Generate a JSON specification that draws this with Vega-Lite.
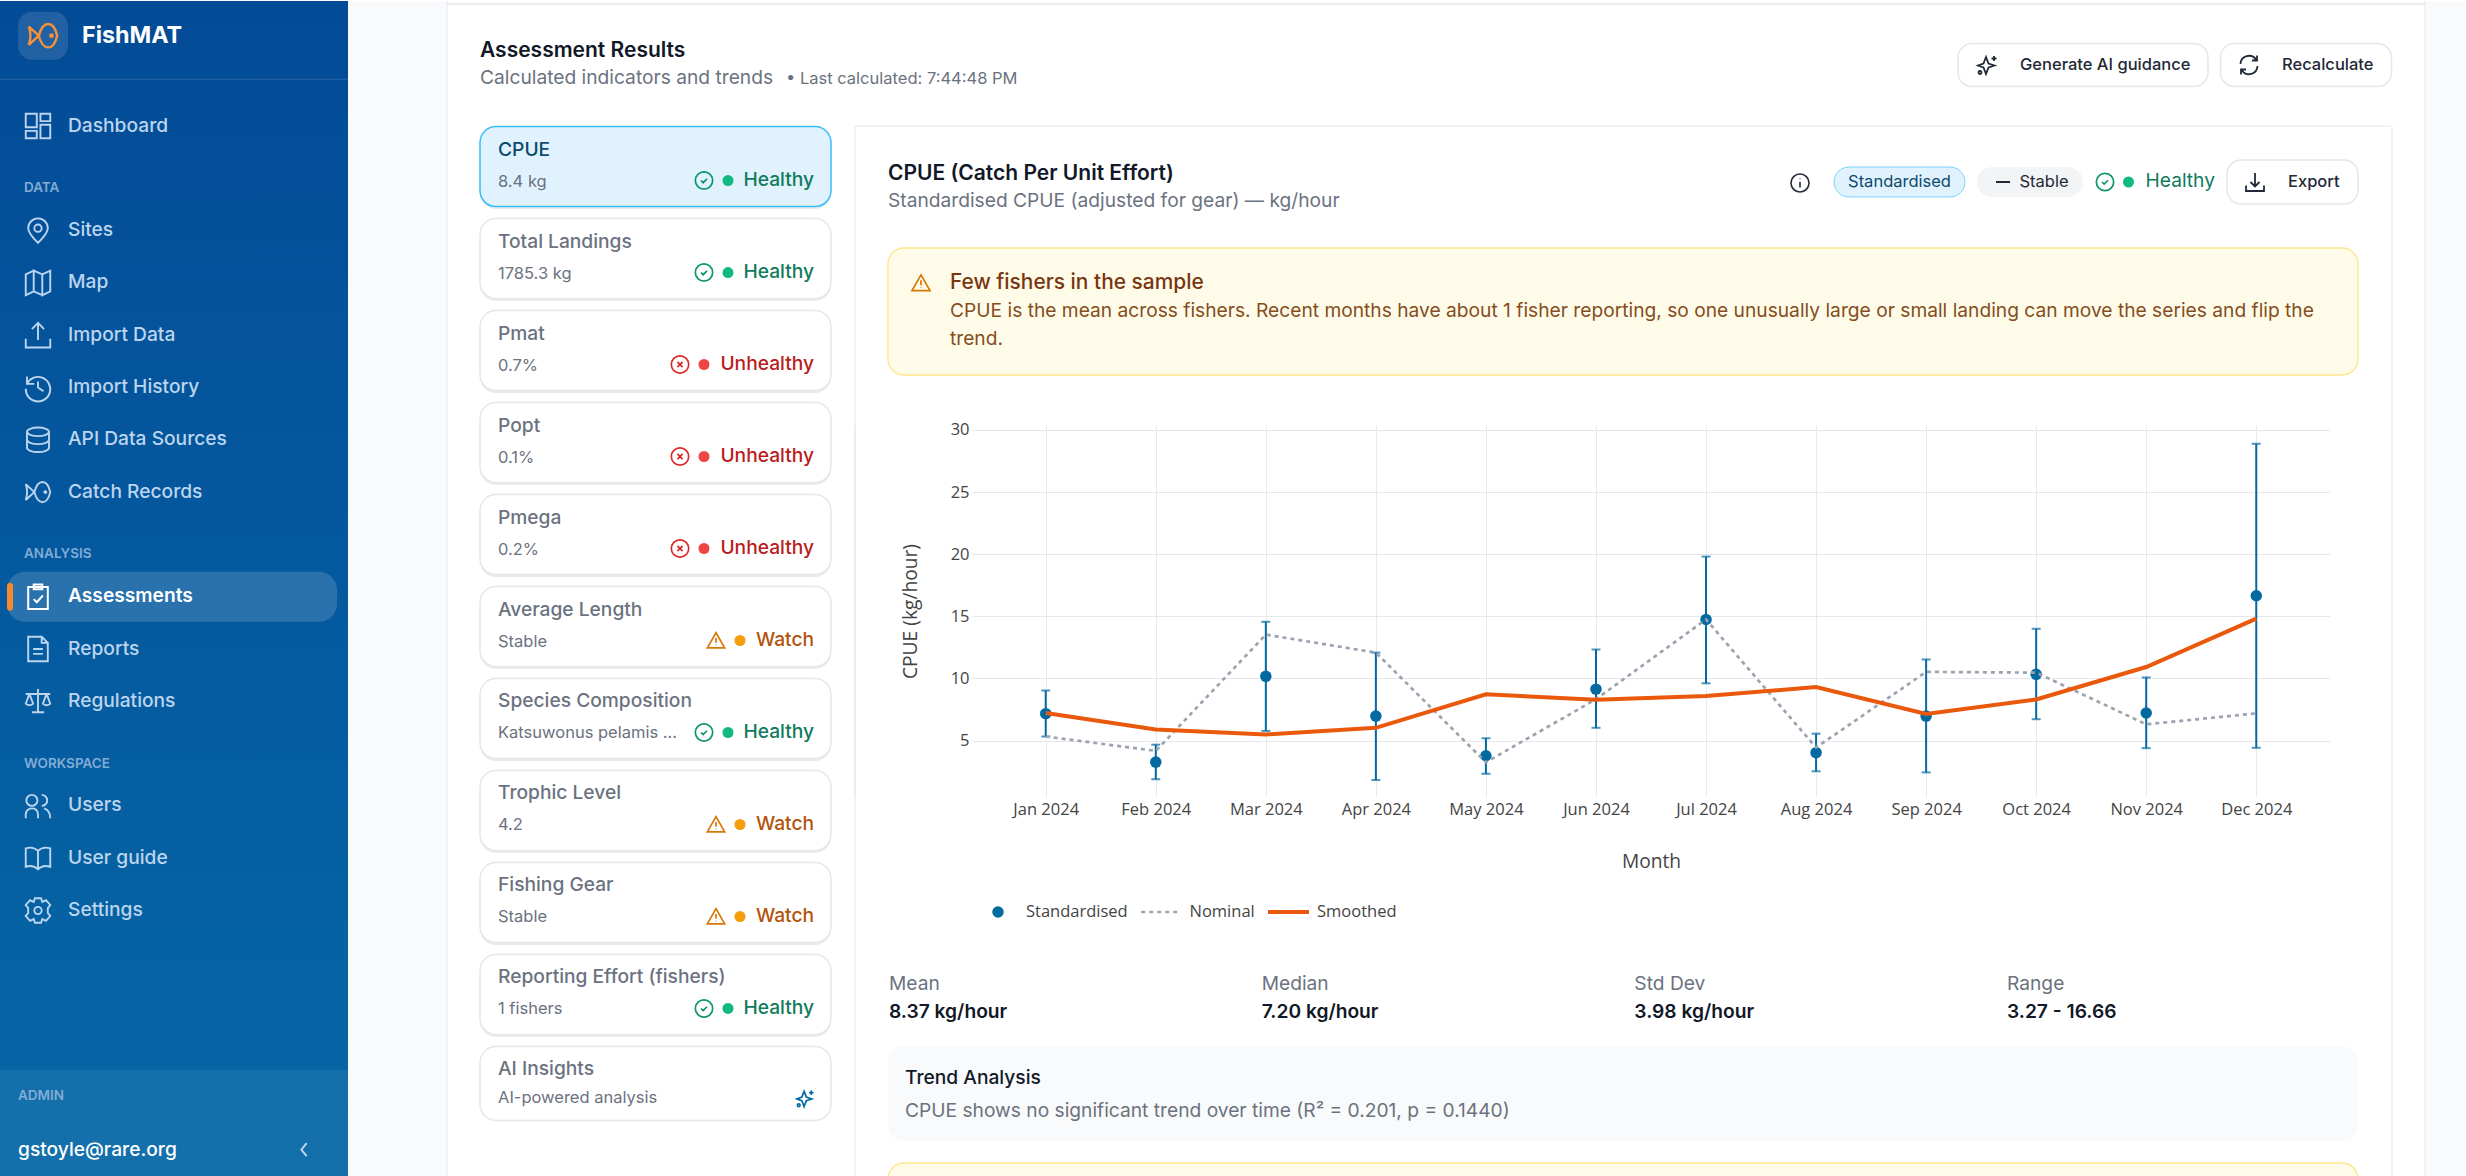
{
  "$schema": "https://vega.github.io/schema/vega-lite/v6.json",
  "background": "white",
  "padding": 0,
  "spacing": 0,
  "bounds": "flush",
  "config": {
    "view": {"stroke": null},
    "text": {"font": "Inter", "align": "left", "baseline": "middle"},
    "point": {"opacity": 1}
  },
  "datasets": {
    "nav": [
      {"item": "Dashboard", "icon": "grid", "col": "nav"},
      {"item": "Sites", "icon": "pin", "col": "nav"},
      {"item": "Map", "icon": "map", "col": "nav"},
      {"item": "Import Data", "icon": "upload", "col": "nav"},
      {"item": "Import History", "icon": "history", "col": "nav"},
      {"item": "API Data Sources", "icon": "database", "col": "nav"},
      {"item": "Catch Records", "icon": "fish", "col": "nav"},
      {"item": "Reports", "icon": "doc", "col": "nav"},
      {"item": "Regulations", "icon": "scales", "col": "nav"},
      {"item": "Users", "icon": "users", "col": "nav"},
      {"item": "User guide", "icon": "book", "col": "nav"},
      {"item": "Settings", "icon": "gear", "col": "nav"}
    ],
    "cards": [
      {"indicator": "CPUE", "detail": "8.4 kg", "status": "Healthy", "state": "selected"},
      {"indicator": "Total Landings", "detail": "1785.3 kg", "status": "Healthy", "state": "normal"},
      {"indicator": "Pmat", "detail": "0.7%", "status": "Unhealthy", "state": "normal"},
      {"indicator": "Popt", "detail": "0.1%", "status": "Unhealthy", "state": "normal"},
      {"indicator": "Pmega", "detail": "0.2%", "status": "Unhealthy", "state": "normal"},
      {"indicator": "Average Length", "detail": "Stable", "status": "Watch", "state": "normal"},
      {"indicator": "Species Composition", "detail": "Katsuwonus pelamis ...", "status": "Healthy", "state": "normal"},
      {"indicator": "Trophic Level", "detail": "4.2", "status": "Watch", "state": "normal"},
      {"indicator": "Fishing Gear", "detail": "Stable", "status": "Watch", "state": "normal"},
      {"indicator": "Reporting Effort (fishers)", "detail": "1 fishers", "status": "Healthy", "state": "normal"},
      {"indicator": "AI Insights", "detail": "AI-powered analysis", "status": "", "state": "normal"}
    ],
    "cpue": [
      {"month": "Jan 2024", "series": "Standardised", "value": 7.17, "low": 5.33, "high": 9.03},
      {"month": "Feb 2024", "series": "Standardised", "value": 3.27, "low": 1.89, "high": 4.67},
      {"month": "Mar 2024", "series": "Standardised", "value": 10.17, "low": 5.78, "high": 14.56},
      {"month": "Apr 2024", "series": "Standardised", "value": 6.97, "low": 1.83, "high": 12.08},
      {"month": "May 2024", "series": "Standardised", "value": 3.78, "low": 2.33, "high": 5.19},
      {"month": "Jun 2024", "series": "Standardised", "value": 9.14, "low": 6.03, "high": 12.33},
      {"month": "Jul 2024", "series": "Standardised", "value": 14.75, "low": 9.61, "high": 19.81},
      {"month": "Aug 2024", "series": "Standardised", "value": 4.03, "low": 2.53, "high": 5.56},
      {"month": "Sep 2024", "series": "Standardised", "value": 6.97, "low": 2.44, "high": 11.53},
      {"month": "Oct 2024", "series": "Standardised", "value": 10.33, "low": 6.72, "high": 14.0},
      {"month": "Nov 2024", "series": "Standardised", "value": 7.22, "low": 4.39, "high": 10.08},
      {"month": "Dec 2024", "series": "Standardised", "value": 16.66, "low": 4.42, "high": 28.89},
      {"month": "Jan 2024", "series": "Nominal", "value": 5.33},
      {"month": "Feb 2024", "series": "Nominal", "value": 4.17},
      {"month": "Mar 2024", "series": "Nominal", "value": 13.53},
      {"month": "Apr 2024", "series": "Nominal", "value": 12.08},
      {"month": "May 2024", "series": "Nominal", "value": 3.25},
      {"month": "Jun 2024", "series": "Nominal", "value": 8.33},
      {"month": "Jul 2024", "series": "Nominal", "value": 14.75},
      {"month": "Aug 2024", "series": "Nominal", "value": 4.44},
      {"month": "Sep 2024", "series": "Nominal", "value": 10.53},
      {"month": "Oct 2024", "series": "Nominal", "value": 10.47},
      {"month": "Nov 2024", "series": "Nominal", "value": 6.31},
      {"month": "Dec 2024", "series": "Nominal", "value": 7.19},
      {"month": "Jan 2024", "series": "Smoothed", "value": 7.22},
      {"month": "Feb 2024", "series": "Smoothed", "value": 5.89},
      {"month": "Mar 2024", "series": "Smoothed", "value": 5.5},
      {"month": "Apr 2024", "series": "Smoothed", "value": 6.03},
      {"month": "May 2024", "series": "Smoothed", "value": 8.72},
      {"month": "Jun 2024", "series": "Smoothed", "value": 8.28},
      {"month": "Jul 2024", "series": "Smoothed", "value": 8.58},
      {"month": "Aug 2024", "series": "Smoothed", "value": 9.31},
      {"month": "Sep 2024", "series": "Smoothed", "value": 7.14},
      {"month": "Oct 2024", "series": "Smoothed", "value": 8.31},
      {"month": "Nov 2024", "series": "Smoothed", "value": 10.92},
      {"month": "Dec 2024", "series": "Smoothed", "value": 14.81}
    ],
    "stats": [
      {"stat": "Mean", "reading": "8.37 kg/hour", "v": "top"},
      {"stat": "Median", "reading": "7.20 kg/hour", "v": "top"},
      {"stat": "Std Dev", "reading": "3.98 kg/hour", "v": "top"},
      {"stat": "Range", "reading": "3.27 - 16.66", "v": "top"}
    ]
  },
  "hconcat": [
    {
      "width": 348,
      "height": 1176,
      "view": {"fill": {"gradient": "linear", "x1": 0, "y1": 0, "x2": 0, "y2": 1, "stops": [{"offset": 0, "color": "#034b97"}, {"offset": 1, "color": "#0668a6"}]}},
      "encoding": {
        "x": {"field": "col", "type": "nominal", "axis": null, "scale": {"type": "point", "padding": 0, "domain": ["icon", "nav"], "range": [38, 68]}},
        "y": {"field": "item", "type": "nominal", "axis": null, "scale": {"type": "point", "padding": 0, "range": [72.7, 1118.7], "domain": ["FishMAT", "Dashboard", "DATA", "Sites", "Map", "Import Data", "Import History", "API Data Sources", "Catch Records", "ANALYSIS", "Assessments", "Reports", "Regulations", "WORKSPACE", "Users", "User guide", "Settings", "gap one", "gap two", "ADMIN", "gstoyle@rare.org"]}}
      },
      "layer": [
        {"data": {"values": [{"col": "nav", "item": "gstoyle@rare.org"}]}, "mark": {"type": "rect", "width": 348, "height": 107, "xOffset": 106, "yOffset": 3.8, "fill": "white", "fillOpacity": 0.06}},
        {"data": {"values": [{"col": "nav", "item": "FishMAT"}]}, "mark": {"type": "rect", "width": 348, "height": 1, "xOffset": 106, "yOffset": 5.5, "fill": "white", "fillOpacity": 0.15}},
        {"data": {"values": [{"col": "nav", "item": "FishMAT"}]}, "mark": {"type": "rect", "width": 50, "height": 48, "xOffset": -25, "yOffset": -38, "cornerRadius": 14, "fill": "white", "fillOpacity": 0.12}},
        {"data": {"values": [{"col": "nav", "item": "FishMAT"}]}, "mark": {"type": "point", "size": 800, "xOffset": -25, "yOffset": -38, "filled": false, "stroke": "#f5913a", "strokeWidth": 2.4, "shape": "M-.3,0C0,-1.1 .75,-1.1 1,0C.75,1.1 0,1.1 -.3,0ZM-.3,0L-1,-.65C-.85,-.2 -.85,.2 -1,.65ZM.6,-.08A.08,.08 0 1,0 .6,.08A.08,.08 0 1,0 .6,-.08Z"}},
        {"data": {"values": [{"col": "nav", "item": "FishMAT"}]}, "mark": {"type": "text", "fontSize": 23.3, "fontWeight": 700, "fill": "white", "xOffset": 14, "yOffset": -38}, "encoding": {"text": {"field": "item"}}},
        {"data": {"values": [{"col": "nav", "item": "Assessments"}]}, "mark": {"type": "rect", "width": 330, "height": 50, "xOffset": 104, "yOffset": 0, "cornerRadius": 18, "fill": "white", "fillOpacity": 0.15}},
        {"data": {"values": [{"col": "icon", "item": "Assessments"}]}, "mark": {"type": "rect", "width": 6, "height": 28, "xOffset": -28, "cornerRadius": 3, "fill": "#f58a2c"}},
        {
          "data": {"name": "nav"},
          "mark": {"type": "point", "size": 600, "filled": false, "stroke": "#bcd5ee", "strokeWidth": 1.9, "xOffset": -30},
          "encoding": {
            "shape": {
              "field": "icon",
              "type": "nominal",
              "legend": null,
              "scale": {
                "domain": ["grid", "pin", "map", "upload", "history", "database", "fish", "doc", "scales", "users", "book", "gear"],
                "range": [
                  "M-1,-1H-.1V.1H-1ZM.2,-1H1V-.4H.2ZM.2,-.1H1V1H.2ZM-1,.4H-.1V1H-1Z",
                  "M0,1C-.3,.7 -.8,.2 -.8,-.2A.8,.8 0 1,1 .8,-.2C.8,.2 .3,.7 0,1ZM.3,-.2A.3,.3 0 1,0 -.3,-.2A.3,.3 0 1,0 .3,-.2Z",
                  "M-1,-.7L-.35,-1V.7L-1,1ZM-.35,-1L.35,-.7V1L-.35,.7ZM.35,-.7L1,-1V.7L.35,1Z",
                  "M-1,.3V1H1V.3M0,.4V-1M-.5,-.5L0,-1L.5,-.5",
                  "M-.9,-.9V-.3H-.3M-.9,-.3A1,1 0 1,1 -1,.1M0,-.5V0L.45,.3",
                  "M-.9,-.65A.9,.35 0 1,1 .9,-.65A.9,.35 0 1,1 -.9,-.65ZM-.9,-.65V.65A.9,.35 0 0,0 .9,.65V-.65M-.9,0A.9,.35 0 0,0 .9,0",
                  "M-.3,0C0,-1.1 .75,-1.1 1,0C.75,1.1 0,1.1 -.3,0ZM-.3,0L-1,-.65C-.85,-.2 -.85,.2 -1,.65ZM.6,-.08A.08,.08 0 1,0 .6,.08A.08,.08 0 1,0 .6,-.08Z",
                  "M-.8,-1H.3L.8,-.5V1H-.8ZM.3,-1V-.5H.8M-.4,0H.4M-.4,.4H.4",
                  "M0,-1V.9M-.5,.9H.5M-1,-.6H1M-.7,-.6L-1,.2A.35,.25 0 0,0 -.4,.2L-.7,-.6M.7,-.6L.4,.2A.35,.25 0 0,0 1,.2L.7,-.6",
                  "M-.05,-.45A.45,.45 0 1,1 -.95,-.45A.45,.45 0 1,1 -.05,-.45ZM-1,1V.7C-1,.3 -.6,.2 -.5,.2C-.3,.2 0,.3 0,.7V1M.3,-.9A.45,.45 0 0,1 .3,0M.5,.2C.8,.3 1,.5 1,1",
                  "M0,-.6C-.3,-.9 -.7,-.9 -1,-.8V.7C-.7,.6 -.3,.6 0,.9C.3,.6 .7,.6 1,.7V-.8C.7,-.9 .3,-.9 0,-.6ZM0,-.6V.9",
                  "M.3,0A.3,.3 0 1,0 -.3,0A.3,.3 0 1,0 .3,0ZM-.25,-1H.25L.35,-.7L.65,-.85L1,-.45L.8,-.2V.2L1,.45L.65,.85L.35,.7L.25,1H-.25L-.35,.7L-.65,.85L-1,.45L-.8,.2V-.2L-1,-.45L-.65,-.85L-.35,-.7Z"
                ]
              }
            }
          }
        },
        {"data": {"values": [{"col": "nav", "item": "Assessments"}]}, "mark": {"type": "point", "size": 600, "filled": false, "stroke": "white", "strokeWidth": 2, "xOffset": -30, "shape": "M-.8,-.8H.8V1H-.8ZM-.35,-1H.35V-.6H-.35ZM-.35,.2L-.1,.45L.4,-.1"}},
        {"data": {"name": "nav"}, "mark": {"type": "text", "fontSize": 19.2, "fontWeight": 500, "fill": "#bcd5ee", "yOffset": -0.5}, "encoding": {"text": {"field": "item"}}},
        {"data": {"values": [{"col": "nav", "item": "Assessments"}]}, "mark": {"type": "text", "fontSize": 19.2, "fontWeight": 600, "fill": "white", "yOffset": -0.5}, "encoding": {"text": {"field": "item"}}},
        {"data": {"values": [{"col": "icon", "item": "DATA"}, {"col": "icon", "item": "ANALYSIS"}, {"col": "icon", "item": "WORKSPACE"}]}, "mark": {"type": "text", "fontSize": 13.5, "fontWeight": 600, "letterSpacing": 1.2, "fill": "#82acd6", "xOffset": -14, "yOffset": 10}, "encoding": {"text": {"field": "item"}}},
        {"data": {"values": [{"col": "icon", "item": "ADMIN"}]}, "mark": {"type": "text", "fontSize": 13.5, "fontWeight": 600, "letterSpacing": 1.2, "fill": "#82acd6", "xOffset": -20, "yOffset": 29}, "encoding": {"text": {"field": "item"}}},
        {"data": {"values": [{"col": "icon", "item": "gstoyle@rare.org"}]}, "mark": {"type": "text", "fontSize": 19.2, "fontWeight": 500, "fill": "white", "xOffset": -20, "yOffset": 30}, "encoding": {"text": {"field": "item"}}},
        {"data": {"values": [{"col": "nav", "item": "gstoyle@rare.org"}]}, "mark": {"type": "point", "size": 170, "filled": false, "stroke": "#bcd5ee", "strokeWidth": 2, "xOffset": 236, "yOffset": 30, "shape": "M.4,-1L-.4,0L.4,1"}}
      ]
    },
    {
      "width": 99,
      "height": 1176,
      "view": {"fill": "#f9fafb"},
      "data": {"values": [{"edge": 1}]},
      "mark": {"type": "rule", "stroke": "#e5e7eb"},
      "encoding": {"x": {"field": "edge", "type": "quantitative", "axis": null, "scale": {"domain": [0, 1]}}}
    },
    {
      "bounds": "flush",
      "spacing": 0,
      "vconcat": [
        {
          "width": 1978,
          "height": 125,
          "encoding": {
            "x": {"field": "h", "type": "nominal", "axis": null, "scale": {"type": "point", "padding": 0, "domain": ["left", "right"], "range": [0, 1978]}},
            "y": {"field": "v", "type": "nominal", "axis": null, "scale": {"type": "point", "padding": 0, "domain": ["top", "bottom"], "range": [0, 125]}}
          },
          "layer": [
            {"data": {"values": [{"h": "left", "v": "top"}]}, "mark": {"type": "rect", "width": 1978, "height": 1.5, "fill": "#e5e7eb", "xOffset": 989, "yOffset": 3}},
            {"data": {"values": [{"h": "left", "v": "top", "label": "Assessment Results"}]}, "mark": {"type": "text", "fontSize": 21, "fontWeight": 600, "fill": "#111827", "xOffset": 33, "yOffset": 50}, "encoding": {"text": {"field": "label"}}},
            {"data": {"values": [{"h": "left", "v": "top", "label": "Calculated indicators and trends"}]}, "mark": {"type": "text", "fontSize": 19.2, "fill": "#6b7280", "xOffset": 33, "yOffset": 77}, "encoding": {"text": {"field": "label"}}},
            {"data": {"values": [{"h": "left", "v": "top", "label": "• Last calculated: 7:44:48 PM"}]}, "mark": {"type": "text", "fontSize": 16.5, "fill": "#6b7280", "xOffset": 339, "yOffset": 78}, "encoding": {"text": {"field": "label"}}},
            {"data": {"values": [{"h": "left", "v": "top"}]}, "mark": {"type": "rect", "width": 250, "height": 43, "cornerRadius": 14, "fill": "white", "stroke": "#e5e7eb", "strokeWidth": 1.5, "xOffset": 1636, "yOffset": 64}},
            {"data": {"values": [{"h": "left", "v": "top"}]}, "mark": {"type": "rect", "width": 171, "height": 43, "cornerRadius": 14, "fill": "white", "stroke": "#e5e7eb", "strokeWidth": 1.5, "xOffset": 1859, "yOffset": 64}},
            {"data": {"values": [{"h": "left", "v": "top"}]}, "mark": {"type": "point", "size": 400, "filled": false, "stroke": "#1f2937", "strokeWidth": 1.8, "xOffset": 1540, "yOffset": 64, "shape": "M-.1,-.8L.15,-.15L.75,.05L.15,.25L-.1,.9L-.35,.25L-.9,.05L-.35,-.15ZM.7,-.9V-.4M.45,-.65H.95M-.7,.6A.15,.15 0 1,0 -.7,.9A.15,.15 0 1,0 -.7,.6Z"}},
            {"data": {"values": [{"h": "left", "v": "top"}]}, "mark": {"type": "point", "size": 400, "filled": false, "stroke": "#1f2937", "strokeWidth": 1.8, "xOffset": 1802, "yOffset": 64, "shape": "M-.85,-.1A.85,.85 0 0,1 .7,-.55M.8,-.95V-.45H.3M.85,.1A.85,.85 0 0,1 -.7,.55M-.8,.95V.45H-.3"}},
            {"data": {"values": [{"h": "left", "v": "top", "label": "Generate AI guidance"}]}, "mark": {"type": "text", "fontSize": 16.5, "fontWeight": 500, "fill": "#1f2937", "xOffset": 1573, "yOffset": 64}, "encoding": {"text": {"field": "label"}}},
            {"data": {"values": [{"h": "left", "v": "top", "label": "Recalculate"}]}, "mark": {"type": "text", "fontSize": 16.5, "fontWeight": 500, "fill": "#1f2937", "xOffset": 1835, "yOffset": 64}, "encoding": {"text": {"field": "label"}}}
          ]
        },
        {
          "bounds": "flush",
          "spacing": 0,
          "hconcat": [
            {
              "width": 408,
              "height": 1051,
              "resolve": {"scale": {"x": "independent", "color": "independent", "fill": "independent", "stroke": "independent", "shape": "independent"}},
              "data": {"name": "cards"},
              "encoding": {
                "y": {"field": "indicator", "type": "nominal", "axis": null, "scale": {"type": "band", "range": [0.5, 1000.5], "paddingInner": 0.13, "paddingOuter": 0, "domain": ["CPUE", "Total Landings", "Pmat", "Popt", "Pmega", "Average Length", "Species Composition", "Trophic Level", "Fishing Gear", "Reporting Effort (fishers)", "AI Insights"]}}
              },
              "layer": [
                {
                  "transform": [{"filter": "datum.indicator != 'AI Insights'"}],
                  "mark": {"type": "rect", "cornerRadius": 16, "fill": "#e9ebef", "yOffset": 2.5},
                  "encoding": {
                    "x": {"datum": "cardLeft", "type": "nominal", "axis": null, "scale": {"type": "point", "padding": 0, "domain": ["cardLeft", "cardRight"], "range": [33, 384]}},
                    "x2": {"datum": "cardRight"}
                  }
                },
                {
                  "transform": [{"filter": "datum.indicator != 'AI Insights'"}],
                  "mark": {"type": "rect", "cornerRadius": 16, "strokeWidth": 1.5},
                  "encoding": {
                    "x": {"datum": "cardLeft", "type": "nominal", "axis": null, "scale": {"type": "point", "padding": 0, "domain": ["cardLeft", "cardRight"], "range": [33, 384]}},
                    "x2": {"datum": "cardRight"},
                    "fill": {"field": "state", "type": "nominal", "legend": null, "scale": {"domain": ["selected", "normal"], "range": ["#e0f2fe", "#ffffff"]}},
                    "stroke": {"field": "state", "type": "nominal", "legend": null, "scale": {"domain": ["selected", "normal"], "range": ["#38bdf8", "#e5e7eb"]}}
                  }
                },
                {
                  "transform": [{"filter": "datum.indicator == 'AI Insights'"}],
                  "mark": {"type": "rect", "width": 351, "height": 74, "cornerRadius": 16, "fill": "white", "stroke": "#e5e7eb", "strokeWidth": 1.5, "yOffset": -3},
                  "encoding": {
                    "x": {"field": "state", "type": "nominal", "axis": null, "scale": {"type": "point", "padding": 0, "domain": ["normal", "right"], "range": [208.5, 408]}}
                  }
                },
                {
                  "mark": {"type": "text", "fontSize": 19.2, "fontWeight": 500, "xOffset": 18, "yOffset": -17},
                  "encoding": {
                    "x": {"datum": "cardLeft", "type": "nominal", "axis": null, "scale": {"type": "point", "padding": 0, "domain": ["cardLeft", "cardRight"], "range": [33, 384]}},
                    "text": {"field": "indicator"},
                    "color": {"field": "state", "type": "nominal", "legend": null, "scale": {"domain": ["selected", "normal"], "range": ["#0c4a6e", "#6b7280"]}}
                  }
                },
                {
                  "transform": [{"filter": "datum.indicator != 'AI Insights'"}],
                  "mark": {"type": "text", "fontSize": 16.5, "fill": "#6b7280", "xOffset": 18, "yOffset": 15},
                  "encoding": {
                    "x": {"datum": "cardLeft", "type": "nominal", "axis": null, "scale": {"type": "point", "padding": 0, "domain": ["cardLeft", "cardRight"], "range": [33, 384]}},
                    "text": {"field": "detail"}
                  }
                },
                {
                  "transform": [{"filter": "datum.indicator == 'AI Insights'"}],
                  "mark": {"type": "text", "fontSize": 16.5, "fill": "#6b7280", "xOffset": 18, "yOffset": 12},
                  "encoding": {
                    "x": {"datum": "cardLeft", "type": "nominal", "axis": null, "scale": {"type": "point", "padding": 0, "domain": ["cardLeft", "cardRight"], "range": [33, 384]}},
                    "text": {"field": "detail"}
                  }
                },
                {
                  "transform": [{"filter": "datum.status != ''"}],
                  "mark": {"type": "text", "fontSize": 19.2, "fontWeight": 500, "align": "right", "xOffset": -17, "yOffset": 13.5},
                  "encoding": {
                    "x": {"datum": "cardRight", "type": "nominal", "axis": null, "scale": {"type": "point", "padding": 0, "domain": ["cardLeft", "cardRight"], "range": [33, 384]}},
                    "text": {"field": "status"},
                    "color": {"field": "status", "type": "nominal", "legend": null, "scale": {"domain": ["Healthy", "Unhealthy", "Watch"], "range": ["#0f7b5c", "#b91c1c", "#b45309"]}}
                  }
                },
                {
                  "transform": [{"filter": "datum.status != ''"}],
                  "mark": {"type": "point", "filled": true, "size": 121, "yOffset": 14},
                  "encoding": {
                    "x": {"field": "status", "type": "nominal", "axis": null, "scale": {"type": "point", "padding": 0, "domain": ["Unhealthy", "spare", "Healthy", "Watch"], "range": [257, 293]}},
                    "color": {"field": "status", "type": "nominal", "legend": null, "scale": {"domain": ["Healthy", "Unhealthy", "Watch"], "range": ["#10b981", "#ef4444", "#f59e0b"]}}
                  }
                },
                {
                  "transform": [{"filter": "datum.status != ''"}],
                  "mark": {"type": "point", "filled": false, "size": 300, "strokeWidth": 1.7, "xOffset": -24, "yOffset": 14},
                  "encoding": {
                    "x": {"field": "status", "type": "nominal", "axis": null, "scale": {"type": "point", "padding": 0, "domain": ["Unhealthy", "spare", "Healthy", "Watch"], "range": [257, 293]}},
                    "shape": {"field": "status", "type": "nominal", "legend": null, "scale": {"domain": ["Healthy", "Unhealthy", "Watch"], "range": ["M1,0A1,1 0 1,1 -1,0A1,1 0 1,1 1,0ZM-.35,0L-.1,.25L.35,-.2", "M1,0A1,1 0 1,1 -1,0A1,1 0 1,1 1,0ZM-.3,-.3L.3,.3M.3,-.3L-.3,.3", "M0,-.9L1,.85H-1ZM0,-.3V.25M0,.5V.55"]}},
                    "stroke": {"field": "status", "type": "nominal", "legend": null, "scale": {"domain": ["Healthy", "Unhealthy", "Watch"], "range": ["#0d9668", "#dc2626", "#d97706"]}}
                  }
                },
                {
                  "transform": [{"filter": "datum.indicator == 'AI Insights'"}],
                  "mark": {"type": "point", "filled": false, "size": 324, "strokeWidth": 1.7, "stroke": "#0369a1", "xOffset": -26, "yOffset": 12},
                  "encoding": {
                    "x": {"datum": "cardRight", "type": "nominal", "axis": null, "scale": {"type": "point", "padding": 0, "domain": ["cardLeft", "cardRight"], "range": [33, 384]}},
                    "shape": {"value": "M-.1,-.8L.15,-.15L.75,.05L.15,.25L-.1,.9L-.35,.25L-.9,.05L-.35,-.15ZM.7,-.9V-.4M.45,-.65H.95M-.7,.6A.15,.15 0 1,0 -.7,.9A.15,.15 0 1,0 -.7,.6Z"}
                  }
                }
              ]
            },
            {
              "bounds": "flush",
              "spacing": 0,
              "vconcat": [
                {
                  "width": 1537,
                  "height": 299,
                  "encoding": {
                    "x": {"field": "h", "type": "nominal", "axis": null, "scale": {"type": "point", "padding": 0, "domain": ["left", "right"], "range": [0, 1537]}},
                    "y": {"field": "v", "type": "nominal", "axis": null, "scale": {"type": "point", "padding": 0, "domain": ["top", "bottom"], "range": [0, 299]}}
                  },
                  "layer": [
                    {"data": {"values": [{"h": "left", "v": "top"}]}, "mark": {"type": "rect", "width": 1537, "height": 1, "fill": "#e5e7eb", "xOffset": 768.5, "yOffset": 0}},
                    {"data": {"values": [{"h": "left", "v": "top"}, {"h": "right", "v": "top"}]}, "mark": {"type": "rect", "width": 1, "height": 299, "fill": "#e5e7eb", "yOffset": 149.5}},
                    {"data": {"values": [{"h": "left", "v": "top"}]}, "mark": {"type": "rect", "width": 1470, "height": 127, "cornerRadius": 16, "fill": "#fefce8", "stroke": "#fde68a", "strokeWidth": 1.3, "xOffset": 768, "yOffset": 185.5}},
                    {"data": {"values": [{"h": "left", "v": "top", "label": "CPUE (Catch Per Unit Effort)"}]}, "mark": {"type": "text", "fontSize": 21, "fontWeight": 600, "fill": "#111827", "xOffset": 33, "yOffset": 48}, "encoding": {"text": {"field": "label"}}},
                    {"data": {"values": [{"h": "left", "v": "top", "label": "Standardised CPUE (adjusted for gear) — kg/hour"}]}, "mark": {"type": "text", "fontSize": 19.2, "fill": "#6b7280", "xOffset": 33, "yOffset": 75}, "encoding": {"text": {"field": "label"}}},
                    {"data": {"values": [{"h": "left", "v": "top"}]}, "mark": {"type": "point", "size": 324, "filled": false, "stroke": "#1f2937", "strokeWidth": 1.6, "xOffset": 945, "yOffset": 57, "shape": "M1,0A1,1 0 1,1 -1,0A1,1 0 1,1 1,0ZM0,-.1V.5M0,-.5V-.45"}},
                    {"data": {"values": [{"h": "left", "v": "top"}]}, "mark": {"type": "rect", "width": 131, "height": 30, "cornerRadius": 15, "fill": "#e0f2fe", "stroke": "#7dd3fc", "xOffset": 1044.5, "yOffset": 56}},
                    {"data": {"values": [{"h": "left", "v": "top", "label": "Standardised"}]}, "mark": {"type": "text", "fontSize": 16.5, "fontWeight": 400, "fill": "#0c4a6e", "align": "center", "xOffset": 1044.5, "yOffset": 56}, "encoding": {"text": {"field": "label"}}},
                    {"data": {"values": [{"h": "left", "v": "top"}]}, "mark": {"type": "rect", "width": 106, "height": 30, "cornerRadius": 15, "fill": "#f3f4f6", "xOffset": 1175, "yOffset": 56}},
                    {"data": {"values": [{"h": "left", "v": "top"}]}, "mark": {"type": "point", "size": 196, "filled": false, "stroke": "#1f2937", "strokeWidth": 2, "xOffset": 1148, "yOffset": 56, "shape": "M-1,0H1"}},
                    {"data": {"values": [{"h": "left", "v": "top", "label": "Stable"}]}, "mark": {"type": "text", "fontSize": 16.5, "fontWeight": 400, "fill": "#1f2937", "align": "center", "xOffset": 1189, "yOffset": 56}, "encoding": {"text": {"field": "label"}}},
                    {"data": {"values": [{"h": "left", "v": "top"}]}, "mark": {"type": "point", "size": 300, "filled": false, "stroke": "#0d9668", "strokeWidth": 1.7, "xOffset": 1250, "yOffset": 56, "shape": "M1,0A1,1 0 1,1 -1,0A1,1 0 1,1 1,0ZM-.35,0L-.1,.25L.35,-.2"}},
                    {"data": {"values": [{"h": "left", "v": "top"}]}, "mark": {"type": "point", "size": 121, "filled": true, "fill": "#10b981", "xOffset": 1273.5, "yOffset": 56}},
                    {"data": {"values": [{"h": "left", "v": "top", "label": "Healthy"}]}, "mark": {"type": "text", "fontSize": 19.2, "fontWeight": 400, "fill": "#0f7b5c", "xOffset": 1290.5, "yOffset": 55}, "encoding": {"text": {"field": "label"}}},
                    {"data": {"values": [{"h": "left", "v": "top"}]}, "mark": {"type": "rect", "width": 131, "height": 44, "cornerRadius": 14, "fill": "white", "stroke": "#e5e7eb", "strokeWidth": 1.5, "xOffset": 1437.5, "yOffset": 56}},
                    {"data": {"values": [{"h": "left", "v": "top"}]}, "mark": {"type": "point", "size": 324, "filled": false, "stroke": "#1f2937", "strokeWidth": 1.8, "xOffset": 1400, "yOffset": 56, "shape": "M-1,.4V1H1V.4M0,-1V.5M-.5,0L0,.5L.5,0"}},
                    {"data": {"values": [{"h": "left", "v": "top", "label": "Export"}]}, "mark": {"type": "text", "fontSize": 16.5, "fontWeight": 500, "fill": "#1f2937", "xOffset": 1433, "yOffset": 56}, "encoding": {"text": {"field": "label"}}},
                    {"data": {"values": [{"h": "left", "v": "top"}]}, "mark": {"type": "point", "size": 324, "filled": false, "stroke": "#d97706", "strokeWidth": 1.7, "xOffset": 66, "yOffset": 157, "shape": "M0,-.9L1,.85H-1ZM0,-.3V.25M0,.5V.55"}},
                    {"data": {"values": [{"h": "left", "v": "top", "label": "Few fishers in the sample"}]}, "mark": {"type": "text", "fontSize": 20.9, "fontWeight": 500, "fill": "#78350f", "xOffset": 95, "yOffset": 157}, "encoding": {"text": {"field": "label"}}},
                    {"data": {"values": [{"h": "left", "v": "top", "label": "CPUE is the mean across fishers. Recent months have about 1 fisher reporting, so one unusually large or small landing can move the series and flip the"}]}, "mark": {"type": "text", "fontSize": 19.2, "fill": "#854d1e", "xOffset": 95, "yOffset": 185}, "encoding": {"text": {"field": "label"}}},
                    {"data": {"values": [{"h": "left", "v": "top", "label": "trend."}]}, "mark": {"type": "text", "fontSize": 19.2, "fill": "#854d1e", "xOffset": 95, "yOffset": 213}, "encoding": {"text": {"field": "label"}}}
                  ]
                },
                {
                  "bounds": "flush",
                  "spacing": 0,
                  "hconcat": [
                    {
                      "width": 117,
                      "height": 372,
                      "data": {"values": [{"edge": 0}]},
                      "mark": {"type": "rule", "stroke": "#e5e7eb"},
                      "encoding": {"x": {"field": "edge", "type": "quantitative", "axis": null, "scale": {"domain": [0, 1]}}}
                    },
                    {
                      "width": 1358,
                      "height": 372,
                      "data": {"name": "cpue"},
                      "encoding": {
                        "x": {
                          "field": "month",
                          "type": "nominal",
                          "title": "Month",
                          "scale": {"type": "point", "padding": 0.67, "domain": ["Jan 2024", "Feb 2024", "Mar 2024", "Apr 2024", "May 2024", "Jun 2024", "Jul 2024", "Aug 2024", "Sep 2024", "Oct 2024", "Nov 2024", "Dec 2024"]},
                          "axis": {"labelAngle": 0, "grid": true, "gridColor": "#e8eaee", "domain": false, "ticks": false, "labelFont": "Open Sans", "labelFontSize": 16.5, "labelColor": "#444444", "labelPadding": 4, "titleFont": "Open Sans", "titleFontSize": 19.2, "titleFontWeight": 400, "titleColor": "#444444", "titlePadding": 35}
                        },
                        "color": {
                          "field": "series",
                          "type": "nominal",
                          "legend": null,
                          "scale": {"domain": ["Standardised", "Nominal", "Smoothed"], "range": ["#0369a1", "#9ca3af", "#ea580c"]}
                        }
                      },
                      "layer": [
                        {
                          "transform": [{"filter": "datum.series == 'Standardised'"}],
                          "mark": {"type": "rule", "strokeWidth": 2},
                          "encoding": {
                            "y": {"field": "low", "type": "quantitative", "title": "CPUE (kg/hour)", "scale": {"domain": [0.46, 30.4], "nice": false, "zero": false}, "axis": {"values": [5, 10, 15, 20, 25, 30], "gridColor": "#e5e7eb", "domain": false, "ticks": false, "labelFont": "Open Sans", "labelFontSize": 16.5, "labelColor": "#444444", "labelPadding": 3, "titleFont": "Open Sans", "titleFontSize": 19.2, "titleFontWeight": 400, "titleColor": "#444444", "titlePadding": 30}},
                            "y2": {"field": "high"}
                          }
                        },
                        {
                          "transform": [{"filter": "datum.series == 'Standardised'"}],
                          "mark": {"type": "tick", "orient": "horizontal", "size": 9, "thickness": 2},
                          "encoding": {"y": {"field": "low", "type": "quantitative"}}
                        },
                        {
                          "transform": [{"filter": "datum.series == 'Standardised'"}],
                          "mark": {"type": "tick", "orient": "horizontal", "size": 9, "thickness": 2},
                          "encoding": {"y": {"field": "high", "type": "quantitative"}}
                        },
                        {
                          "transform": [{"filter": "datum.series == 'Standardised'"}],
                          "mark": {"type": "point", "filled": true, "size": 132},
                          "encoding": {"y": {"field": "value", "type": "quantitative"}}
                        },
                        {
                          "transform": [{"filter": "datum.series == 'Nominal'"}],
                          "mark": {"type": "line", "strokeWidth": 2.7, "strokeDash": [4, 4]},
                          "encoding": {"y": {"field": "value", "type": "quantitative"}}
                        },
                        {
                          "transform": [{"filter": "datum.series == 'Smoothed'"}],
                          "mark": {"type": "line", "strokeWidth": 4},
                          "encoding": {"y": {"field": "value", "type": "quantitative"}}
                        }
                      ]
                    }
                  ]
                },
                {
                  "width": 1537,
                  "height": 372,
                  "data": {"values": [{"edge": 0}, {"edge": 1}]},
                  "mark": {"type": "rule", "stroke": "#e5e7eb"},
                  "encoding": {"x": {"field": "edge", "type": "quantitative", "axis": null, "scale": {"domain": [0, 1]}}}
                },
                {
                  "width": 1537,
                  "height": 380,
                  "resolve": {"scale": {"x": "independent"}},
                  "encoding": {
                    "y": {"field": "v", "type": "nominal", "axis": null, "scale": {"type": "point", "padding": 0, "domain": ["top", "bottom"], "range": [0, 380]}}
                  },
                  "layer": [
                    {"data": {"values": [{"h": "left", "v": "top"}, {"h": "right", "v": "top"}]}, "mark": {"type": "rect", "width": 1, "height": 380, "fill": "#e5e7eb", "yOffset": 190}, "encoding": {"x": {"field": "h", "type": "nominal", "axis": null, "scale": {"type": "point", "padding": 0, "domain": ["left", "right"], "range": [0, 1537]}}}},
                    {"data": {"values": [{"h": "left", "v": "top"}]}, "mark": {"type": "rect", "width": 1470, "height": 95, "cornerRadius": 16, "fill": "#f9fafb", "xOffset": 768, "yOffset": 296.5}, "encoding": {"x": {"field": "h", "type": "nominal", "axis": null, "scale": {"type": "point", "padding": 0, "domain": ["left", "right"], "range": [0, 1537]}}}},
                    {"data": {"values": [{"h": "left", "v": "top"}]}, "mark": {"type": "rect", "width": 1470, "height": 40, "cornerRadius": 16, "fill": "#fefce8", "stroke": "#fde68a", "strokeWidth": 1.3, "xOffset": 768, "yOffset": 386, "clip": true}, "encoding": {"x": {"field": "h", "type": "nominal", "axis": null, "scale": {"type": "point", "padding": 0, "domain": ["left", "right"], "range": [0, 1537]}}}},
                    {"data": {"values": [{"h": "left", "v": "top", "series": "Standardised"}]}, "mark": {"type": "point", "filled": true, "size": 132, "fill": "#0369a1", "xOffset": 143, "yOffset": 115}, "encoding": {"x": {"field": "h", "type": "nominal", "axis": null, "scale": {"type": "point", "padding": 0, "domain": ["left", "right"], "range": [0, 1537]}}}},
                    {"data": {"values": [{"h": "left", "v": "top", "series": "Nominal"}]}, "mark": {"type": "point", "filled": false, "size": 1406, "stroke": "#9ca3af", "strokeWidth": 2.7, "strokeDash": [4, 4], "shape": "M-1,0H1", "xOffset": 305, "yOffset": 115}, "encoding": {"x": {"field": "h", "type": "nominal", "axis": null, "scale": {"type": "point", "padding": 0, "domain": ["left", "right"], "range": [0, 1537]}}}},
                    {"data": {"values": [{"h": "left", "v": "top", "series": "Smoothed"}]}, "mark": {"type": "point", "filled": false, "size": 1681, "stroke": "#ea580c", "strokeWidth": 4, "shape": "M-1,0H1", "xOffset": 433.5, "yOffset": 115}, "encoding": {"x": {"field": "h", "type": "nominal", "axis": null, "scale": {"type": "point", "padding": 0, "domain": ["left", "right"], "range": [0, 1537]}}}},
                    {"data": {"values": [{"h": "left", "v": "top", "series": "Standardised"}]}, "mark": {"type": "text", "font": "Open Sans", "fontSize": 16.5, "fill": "#444444", "xOffset": 171, "yOffset": 115}, "encoding": {"x": {"field": "h", "type": "nominal", "axis": null, "scale": {"type": "point", "padding": 0, "domain": ["left", "right"], "range": [0, 1537]}}, "text": {"field": "series"}}},
                    {"data": {"values": [{"h": "left", "v": "top", "series": "Nominal"}]}, "mark": {"type": "text", "font": "Open Sans", "fontSize": 16.5, "fill": "#444444", "xOffset": 334.5, "yOffset": 115}, "encoding": {"x": {"field": "h", "type": "nominal", "axis": null, "scale": {"type": "point", "padding": 0, "domain": ["left", "right"], "range": [0, 1537]}}, "text": {"field": "series"}}},
                    {"data": {"values": [{"h": "left", "v": "top", "series": "Smoothed"}]}, "mark": {"type": "text", "font": "Open Sans", "fontSize": 16.5, "fill": "#444444", "xOffset": 462, "yOffset": 115}, "encoding": {"x": {"field": "h", "type": "nominal", "axis": null, "scale": {"type": "point", "padding": 0, "domain": ["left", "right"], "range": [0, 1537]}}, "text": {"field": "series"}}},
                    {"data": {"values": [{"h": "left", "v": "top", "label": "Trend Analysis"}]}, "mark": {"type": "text", "fontSize": 19.2, "fontWeight": 500, "fill": "#111827", "xOffset": 50, "yOffset": 281}, "encoding": {"x": {"field": "h", "type": "nominal", "axis": null, "scale": {"type": "point", "padding": 0, "domain": ["left", "right"], "range": [0, 1537]}}, "text": {"field": "label"}}},
                    {"data": {"values": [{"h": "left", "v": "top", "label": "CPUE shows no significant trend over time (R² = 0.201, p = 0.1440)"}]}, "mark": {"type": "text", "fontSize": 19.2, "fill": "#6b7280", "xOffset": 50, "yOffset": 314}, "encoding": {"x": {"field": "h", "type": "nominal", "axis": null, "scale": {"type": "point", "padding": 0, "domain": ["left", "right"], "range": [0, 1537]}}, "text": {"field": "label"}}},
                    {"data": {"name": "stats"}, "mark": {"type": "text", "fontSize": 19.2, "fill": "#6b7280", "yOffset": 187}, "encoding": {"x": {"field": "stat", "type": "nominal", "axis": null, "scale": {"type": "point", "padding": 0, "domain": ["Mean", "Median", "Std Dev", "Range"], "range": [34, 1152]}}, "text": {"field": "stat"}}},
                    {"data": {"name": "stats"}, "mark": {"type": "text", "fontSize": 19.2, "fontWeight": 600, "fill": "#111827", "yOffset": 215}, "encoding": {"x": {"field": "stat", "type": "nominal", "axis": null, "scale": {"type": "point", "padding": 0, "domain": ["Mean", "Median", "Std Dev", "Range"], "range": [34, 1152]}}, "text": {"field": "reading"}}}
                  ]
                }
              ]
            }
          ]
        }
      ]
    },
    {
      "width": 1978,
      "height": 1176,
      "data": {"values": [{"edge": 0}]},
      "mark": {"type": "rule", "strokeOpacity": 0},
      "encoding": {"x": {"field": "edge", "type": "quantitative", "axis": null, "scale": {"domain": [0, 1]}}}
    },
    {
      "width": 41,
      "height": 1176,
      "view": {"fill": "#f9fafb"},
      "data": {"values": [{"edge": 0}]},
      "mark": {"type": "rule", "stroke": "#e5e7eb"},
      "encoding": {"x": {"field": "edge", "type": "quantitative", "axis": null, "scale": {"domain": [0, 1]}}}
    }
  ]
}
